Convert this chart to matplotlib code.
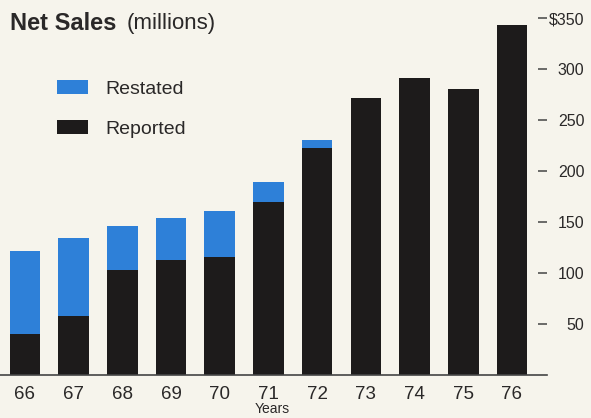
import matplotlib.pyplot as plt

years = ['66', '67', '68', '69', '70', '71', '72', '73', '74', '75', '76']
reported = [40, 58, 103, 113, 116, 170, 223, 272, 291, 281, 343]
restated = [122, 134, 146, 154, 161, 189, 231, 272, 291, 281, 343]
restated_extra = [t - r for t, r in zip(restated, reported)]

yticks = [50, 100, 150, 200, 250, 300, 350]
ytick_labels = ['50', '100', '150', '200', '250', '300', '$350']

bg = '#f6f4ec'
blue = '#2e80d8'
black = '#1d1b1b'
text_col = '#2a2828'

plt.rcParams['font.family'] = ['Liberation Sans', 'DejaVu Sans']

fig = plt.figure(figsize=(5.91, 4.18), dpi=100, facecolor=bg)
ax = fig.add_axes([0, 43 / 418, 547 / 591, 367 / 418], facecolor=bg)

x = list(range(len(years)))
b1 = ax.bar(x, reported, width=0.63, color=black, label='Reported')
b2 = ax.bar(x, restated_extra, bottom=reported, width=0.63, color=blue, label='Restated')

ax.set_xlim(-0.513, 10.72)
ax.set_ylim(0, 360)

for s in ['top', 'left', 'right']:
    ax.spines[s].set_visible(False)
ax.spines['bottom'].set_color('#444444')
ax.spines['bottom'].set_linewidth(1.2)

ax.set_xticks(x)
ax.set_xticklabels(years, fontsize=13.5, color=text_col)
ax.tick_params(axis='x', length=0, pad=8)

ax.yaxis.tick_right()
ax.set_yticks(yticks)
ax.set_yticklabels(ytick_labels, fontsize=11.5, color=text_col, ha='right')
ax.tick_params(axis='y', direction='in', length=6.5, width=1.1, color='#444444', pad=27)

ax.set_xlabel('Years', fontsize=10, color=text_col)
ax.xaxis.set_label_coords(272 / 547, -41 / 367)
ax.xaxis.label.set_va('bottom')

fig.text(10 / 591, 1 - 23 / 418, 'Net Sales', fontsize=17, fontweight='bold',
         color=text_col, va='center')
fig.text(127 / 591, 1 - 23 / 418, '(millions)', fontsize=16, color=text_col, va='center')

ax.legend(handles=[b2, b1], loc='upper left', bbox_to_anchor=(57 / 591, 1 - 80 / 418),
          bbox_transform=fig.transFigure, frameon=False, fontsize=14,
          handlelength=1.6, handleheight=0.72, handletextpad=0.9,
          labelspacing=1.15, borderpad=0, borderaxespad=0, labelcolor=text_col)

fig.savefig('out.png', dpi=100, facecolor=bg)
